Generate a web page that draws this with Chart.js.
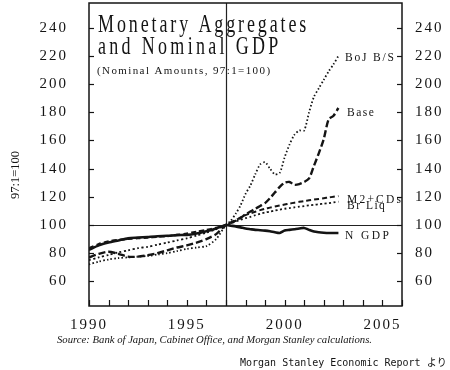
<!DOCTYPE html>
<html><head><meta charset="utf-8">
<script src="https://cdn.jsdelivr.net/npm/chart.js@4"></script>
<style>html,body{margin:0;padding:0;background:#fff}</style>
</head><body>
<canvas id="c" width="450" height="370"></canvas>
<script>
// ---- data (index 97:1 = 100) ----
const dates = [1990,1990.5,1991,1991.5,1992,1992.5,1993,1993.5,1994,1994.5,1995,1995.5,1996,1996.5,
  1997,1997.25,1997.5,1997.75,1998,1998.25,1998.5,1998.75,1999,1999.25,1999.5,1999.75,
  2000,2000.25,2000.5,2000.75,2001,2001.25,2001.5,2001.75,2002,2002.25,2002.5,2002.75];
const nGDP  = [82.3,85.5,87.5,89,90.5,91,91.5,92,92.3,92.8,93,94,95.5,97.5,
  100,99.5,99,98.3,97.5,97,96.5,96.3,96,95.5,94.8,94.3,96,96.5,97,97.5,97.9,96.5,95.3,94.8,94.5,94.3,94.3,94.3];
const m2cds = [83.5,86.5,88.5,89.5,90,90.5,91,91.5,92,93,94,95.3,96.5,98,
  100,101.8,103.5,105.3,107,108.2,109.4,110.5,111.5,112.3,113.1,113.8,114.5,115.2,115.8,116.4,117,117.5,118,118.5,119,119.5,120,120.5];
const brLiq = [75,77,78.7,80.5,82,83.5,84.5,86,87.5,89,90.5,92.5,94.5,97,
  100,101.2,102.5,103.7,104.8,105.8,106.9,107.9,108.8,109.5,110.2,110.9,111.5,112,112.5,113,113.4,113.9,114.3,114.7,115.1,115.5,116,116.5];
const base  = [77,79.5,81,79.5,77.5,77.5,78.5,80,82,84,85.5,87.5,90,93.5,
  100,101.5,103,105,107.5,109.5,111.5,113.5,115.5,119,123,127,130,130.5,128.5,129,130.5,133,142,151,161,175,177.5,183];
const bojBS = [72,74,75.5,76.5,77,77.5,78,79,80,81.5,83,84,85,90,
  100,103,108,114,122,128,136,143,144.5,140,136,137,148,157,164,167,167,180,191,197,203,209,214,220];
const yTicks  = [60,80,100,120,140,160,180,200,220,240];
const xLabels = [1990,1995,2000,2005];
const xMin = 1990, xMax = 2006, yMin = 42.5, yMax = 257.5;
const refYear = 1997, refLevel = 100;
const seriesNames = ['BoJ B/S','Base','M2+CDs','Br Liq','N GDP'];

const pts = arr => dates.map((d,i)=>({x:d,y:arr[i]}));
const INK = '#141414';
const serif = '"Liberation Serif", "Times New Roman", serif';

function txt(ctx, s, x, y, font, spacing, align, sx){
  ctx.save();
  ctx.font = font; ctx.letterSpacing = spacing + 'px';
  ctx.textAlign = align || 'left'; ctx.textBaseline = 'alphabetic';
  ctx.fillStyle = INK;
  ctx.translate(x, y); ctx.scale(sx || 1, 1);
  ctx.fillText(s, 0, 0);
  ctx.restore();
}

const decor = {
  id: 'decor',
  beforeDraw(chart){ chart.ctx.letterSpacing = '2px'; },
  beforeDatasetsDraw(chart){
    const {ctx, chartArea:a, scales} = chart;
    ctx.save();
    ctx.strokeStyle = '#222'; ctx.lineWidth = 1.2;
    const py = Math.round(scales.y.getPixelForValue(refLevel)) + 0.5;
    const px = Math.round(scales.x.getPixelForValue(refYear)) + 0.5;
    ctx.beginPath(); ctx.moveTo(a.left, py); ctx.lineTo(a.right, py); ctx.stroke();
    ctx.beginPath(); ctx.moveTo(px, a.top); ctx.lineTo(px, a.bottom); ctx.stroke();
    ctx.restore();
  },
  afterDraw(chart){
    const {ctx, chartArea:a, scales} = chart;
    ctx.save();
    ctx.strokeStyle = INK; ctx.lineWidth = 1.5;
    ctx.strokeRect(a.left, a.top, a.right - a.left, a.bottom - a.top);
    ctx.lineWidth = 1.2;
    yTicks.forEach(v=>{
      const p = Math.round(scales.y.getPixelForValue(v)) + 0.5;
      ctx.beginPath(); ctx.moveTo(a.left, p); ctx.lineTo(a.left + 5, p); ctx.stroke();
      ctx.beginPath(); ctx.moveTo(a.right - 5, p); ctx.lineTo(a.right, p); ctx.stroke();
    });
    for (let yr = xMin; yr <= xMax; yr++){
      const p = Math.round(scales.x.getPixelForValue(yr)) + 0.5;
      ctx.beginPath(); ctx.moveTo(p, a.bottom); ctx.lineTo(p, a.bottom - 6); ctx.stroke();
    }
    ctx.restore();
    // titles
    txt(ctx, 'Monetary Aggregates', 98, 32, '25px ' + serif, 4.0, 'left', 0.72);
    txt(ctx, 'and Nominal GDP', 98, 54, '25px ' + serif, 4.6, 'left', 0.72);
    txt(ctx, '(Nominal Amounts, 97:1=100)', 97, 74, '11px ' + serif, 1.4, 'left', 1);
    // series labels
    const lf = '11.5px ' + serif;
    txt(ctx, seriesNames[0], 345, 61, lf, 1.8);
    txt(ctx, seriesNames[1], 347, 116, lf, 1.5);
    txt(ctx, seriesNames[2], 347, 203, lf, 2.2);
    txt(ctx, seriesNames[3], 347, 209, lf, 1.5);
    txt(ctx, seriesNames[4], 345, 239, lf, 2.4);
    // axis title
    ctx.save(); ctx.translate(19, 175); ctx.rotate(-Math.PI/2);
    txt(ctx, '97:1=100', 0, 0, '12.5px ' + serif, 0, 'center');
    ctx.restore();
    // source & credit
    txt(ctx, 'Source: Bank of Japan, Cabinet Office, and Morgan Stanley calculations.', 57, 343, 'italic 10.7px ' + serif, 0);
    txt(ctx, 'Morgan Stanley Economic Report より', 240, 366, '10px "DejaVu Sans Mono", "Noto Sans CJK JP", monospace', 0);
  }
};

const zeroPad = s => { s.paddingTop = 0; s.paddingBottom = 0; s.paddingLeft = 0; s.paddingRight = 0; };
const yAxis = (pos, width, pad) => ({
  type: 'linear', position: pos, min: yMin, max: yMax,
  afterBuildTicks: s => { s.ticks = yTicks.map(v => ({value: v})); },
  grid: {display: false, drawTicks: false},
  border: {display: false},
  ticks: {padding: pad, color: INK, font: {family: serif, size: 15}},
  afterFit: s => { s.width = width; zeroPad(s); }
});

new Chart(document.getElementById('c'), {
  type: 'line',
  data: {
    datasets: [
      {label: seriesNames[4], data: pts(nGDP),  borderColor: INK, borderWidth: 2.6, borderDash: []},
      {label: seriesNames[2], data: pts(m2cds), borderColor: INK, borderWidth: 2, borderDash: [5,3]},
      {label: seriesNames[3], data: pts(brLiq), borderColor: INK, borderWidth: 1.8, borderDash: [2,2.5]},
      {label: seriesNames[1], data: pts(base),  borderColor: INK, borderWidth: 2.4, borderDash: [7,3]},
      {label: seriesNames[0], data: pts(bojBS), borderColor: INK, borderWidth: 1.8, borderDash: [1.5,2.2]}
    ]
  },
  options: {
    responsive: false, animation: false, devicePixelRatio: 1,
    layout: {autoPadding: false, padding: {top: 3, bottom: 40, left: 0, right: 0}},
    elements: {point: {radius: 0}, line: {tension: 0.25, borderCapStyle: 'butt'}},
    plugins: {legend: {display: false}, tooltip: {enabled: false}},
    scales: {
      x: {
        type: 'linear', min: xMin, max: xMax,
        grid: {display: false, drawTicks: false}, border: {display: false},
        ticks: {stepSize: 1, autoSkip: false, maxRotation: 0, padding: 10, color: INK,
          font: {family: serif, size: 15},
          callback: v => xLabels.includes(v) ? String(v) : ''},
        afterFit: s => { s.height = 24; zeroPad(s); }
      },
      y: yAxis('left', 89, 21),
      y2: yAxis('right', 48, 13)
    }
  },
  plugins: [decor]
});
</script>
</body></html>
